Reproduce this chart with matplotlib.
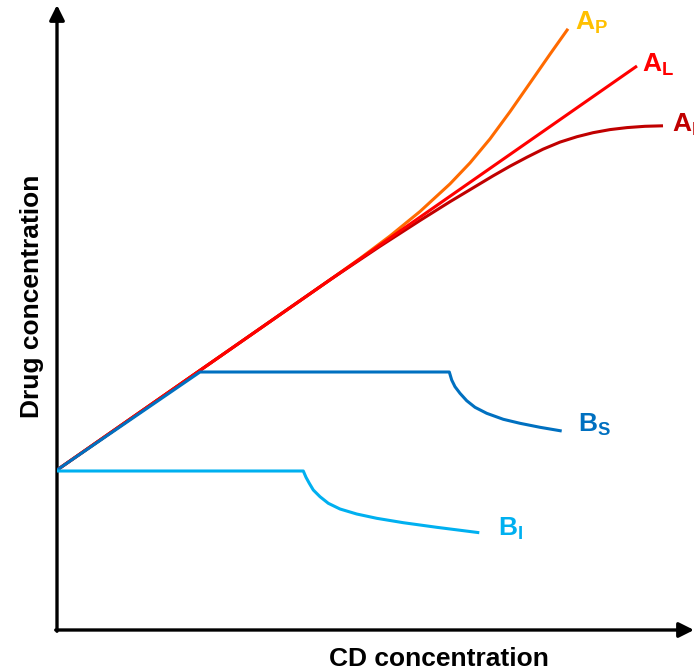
import matplotlib
matplotlib.use("Agg")
import matplotlib.pyplot as plt

plt.rcParams['font.family'] = ['Liberation Sans', 'DejaVu Sans']
plt.rcParams['mathtext.fontset'] = 'custom'
plt.rcParams['mathtext.rm'] = 'Liberation Sans:bold'
plt.rcParams['mathtext.bf'] = 'Liberation Sans:bold'

# ---- data (CD concentration vs drug concentration, arbitrary units) ----
AL_x = [0, 580]
AL_y = [160, 564]

AP_x = [0, 273, 303, 333, 363, 393, 413, 433, 453, 473, 493, 511]
AP_y = [160, 350.2, 371.5, 394.0, 418.5, 446.1, 467.1, 491.1, 518.3, 547.0, 575.8, 601.2]

AN_x = [0, 273, 323, 363, 393, 436, 453, 470, 486, 503, 520, 536, 553, 570, 588, 606]
AN_y = [160, 350.2, 383.7, 409.5, 428.3, 454.1, 463.8, 472.8, 480.8, 487.9, 493.3,
        497.3, 500.4, 502.4, 503.7, 504.2]

BS_x = [0, 143, 392.3, 394.7, 398, 403, 409.7, 418, 429.7, 446.3, 463, 483, 504.7]
BS_y = [160, 258, 258, 250, 243.3, 236.7, 229.3, 222.7, 216.7, 210.7, 206.7, 202.7, 199]

BI_x = [0, 246.3, 249, 252.3, 256.3, 263, 271.3, 283, 299.7, 319.7, 346.3, 379.7, 422.3]
BI_y = [159, 159, 152.7, 146.7, 140, 133.3, 126.7, 121, 116, 111.7, 107.3, 102.7, 97.3]

labels = [r'$\mathbf{A}_{\mathbf{P}}$', r'$\mathbf{A}_{\mathbf{L}}$', r'$\mathbf{A}_{\mathbf{N}}$',
          r'$\mathbf{B}_{\mathbf{S}}$', r'$\mathbf{B}_{\mathbf{I}}$']
xlabel = 'CD concentration'
ylabel = 'Drug concentration'

# ---- figure ----
W, H = 694, 672
fig = plt.figure(figsize=(W / 100, H / 100), dpi=100)
ax = fig.add_axes([57 / W, 42 / H, 637 / W, 625 / H])
ax.set_xlim(0, 637)
ax.set_ylim(0, 625)
ax.axis('off')

lw = 2.2
kw = dict(lw=lw, solid_capstyle='butt', solid_joinstyle='round')
ax.plot(AP_x, AP_y, color='#FF6A00', zorder=3, **kw)
ax.plot(AN_x, AN_y, color='#C00000', zorder=3, **kw)
ax.plot(AL_x, AL_y, color='#FF0000', zorder=4, **kw)
ax.plot(BS_x, BS_y, color='#0070C0', zorder=5, **kw)
ax.plot(BI_x, BI_y, color='#00B0F0', zorder=5, **kw)

# curve labels
lab_pos = [(518, 600), (585, 558), (615, 498), (521, 198), (441, 95)]
lab_col = ['#FFC000', '#FF0000', '#C00000', '#0070C0', '#00B0F0']
for t, (x, y), c in zip(labels, lab_pos, lab_col):
    ax.text(x, y, t, color=c, fontsize=19, ha='left', va='baseline', clip_on=False)

# axes with arrows
ax.annotate('', xy=(0, 1.0), xytext=(0, -0.002), xycoords='axes fraction',
            arrowprops=dict(arrowstyle='-|>,head_length=0.9,head_width=0.45',
                            color='black', lw=2.4, shrinkA=0, shrinkB=0),
            annotation_clip=False)
ax.annotate('', xy=(1.0, 0), xytext=(-0.002, 0), xycoords='axes fraction',
            arrowprops=dict(arrowstyle='-|>,head_length=0.9,head_width=0.45',
                            color='black', lw=2.4, shrinkA=0, shrinkB=0),
            annotation_clip=False)

fig.text(439 / W, 1 - 659 / H, xlabel, fontsize=19, fontweight='bold',
         ha='center', va='center')
fig.text(32 / W, 1 - 296 / H, ylabel, fontsize=19, fontweight='bold',
         ha='center', va='center', rotation=90)

fig.savefig('out.png', dpi=100)
